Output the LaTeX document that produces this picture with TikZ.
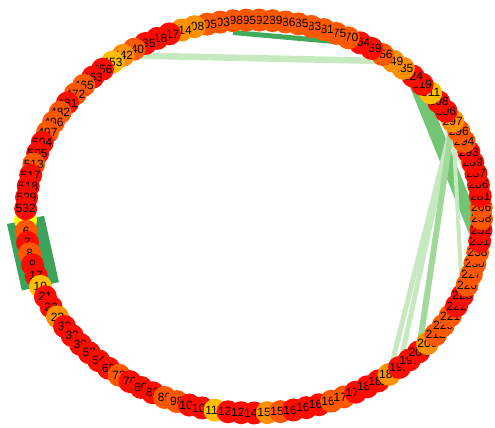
\documentclass[tikz,border=0pt]{standalone}
\usepackage{fontspec}
\setmainfont{Liberation Sans}
\usetikzlibrary{backgrounds}

\definecolor{nr}{RGB}{255,12,0}
\definecolor{no}{RGB}{255,88,0}
\definecolor{na}{RGB}{255,145,0}
\definecolor{ng}{RGB}{255,190,0}
\definecolor{ny}{RGB}{255,255,0}
\definecolor{bandgreen}{RGB}{60,162,92}
\definecolor{dkgreen}{RGB}{65,171,93}
\definecolor{midgreen}{RGB}{116,196,118}
\definecolor{lightgreen}{RGB}{161,217,155}
\definecolor{palegreen}{RGB}{199,233,192}

\begin{document}
\begin{tikzpicture}[x=1pt,y=-1pt,
    vtx/.style={circle, inner sep=0pt, minimum size=23pt, font=\fontsize{12}{12}\selectfont},
    link/.style={line cap=butt}]
    \useasboundingbox (0,0) rectangle (495,428);

    % Nodes on the ring
    \foreach \lab/\col [count=\i] in {5/y,6/o,7/r,8/o,9/r,17/r,19/g,21/r,22/r,23/a,
        32/r,33/r,39/r,53/r,54/r,69/r,72/o,76/r,80/r,83/r,
        89/o,98/o,102/r,104/r,116/g,120/r,123/r,148/r,155/a,159/o,
        163/r,165/r,167/r,169/o,173/o,177/r,180/r,182/r,183/a,192/r,
        197/r,204/r,208/a,212/o,220/o,221/o,222/r,225/r,226/o,227/o,
        230/o,238/o,251/r,252/r,258/o,266/o,281/r,286/r,287/r,289/r,
        293/r,294/o,296/o,297/a,306/r,308/r,311/g,319/r,324/r,335/a,
        349/a,356/o,359/r,364/r,370/o,375/o,381/o,383/o,385/o,386/o,
        389/o,392/o,395/o,398/o,403/o,405/o,408/a,414/a,417/r,418/r,
        435/r,440/o,442/a,453/g,456/r,463/r,465/o,472/o,481/r,482/o,
        496/o,497/o,504/r,505/r,513/o,517/r,518/r,529/r,532/r} {
        \pgfmathsetmacro{\a}{181+(\i-1)*3.303}
        \node[vtx, fill=n\col] (n\lab) at ({253.5+228*cos(\a)}, {216.5-196.5*sin(\a)}) {\lab};
    }

    % Links (under the nodes)
    \begin{scope}[on background layer]
        \draw[link, line width=38pt, bandgreen] (n5.center) -- (n19.center);
        \draw[link, line width=5pt, dkgreen] (n398.south) -- (n364.west);
        \draw[link, line width=6.5pt, palegreen] (n442.center) -- (n349.center);
        \draw[link, line width=14pt, midgreen] (n324.center) -- (n251.center);
        \draw[link, line width=4pt, palegreen] (n311.center) -- (n266.center);
        \draw[link, line width=5pt, palegreen] (n297.center) -- (n183.center);
        \draw[link, line width=5pt, palegreen] (n297.center) -- (n192.center);
        \draw[link, line width=6pt, lightgreen] (n297.center) -- (n204.center);
        \draw[link, line width=4pt, palegreen] (n297.center) -- (n225.center);
    \end{scope}
\end{tikzpicture}
\end{document}
